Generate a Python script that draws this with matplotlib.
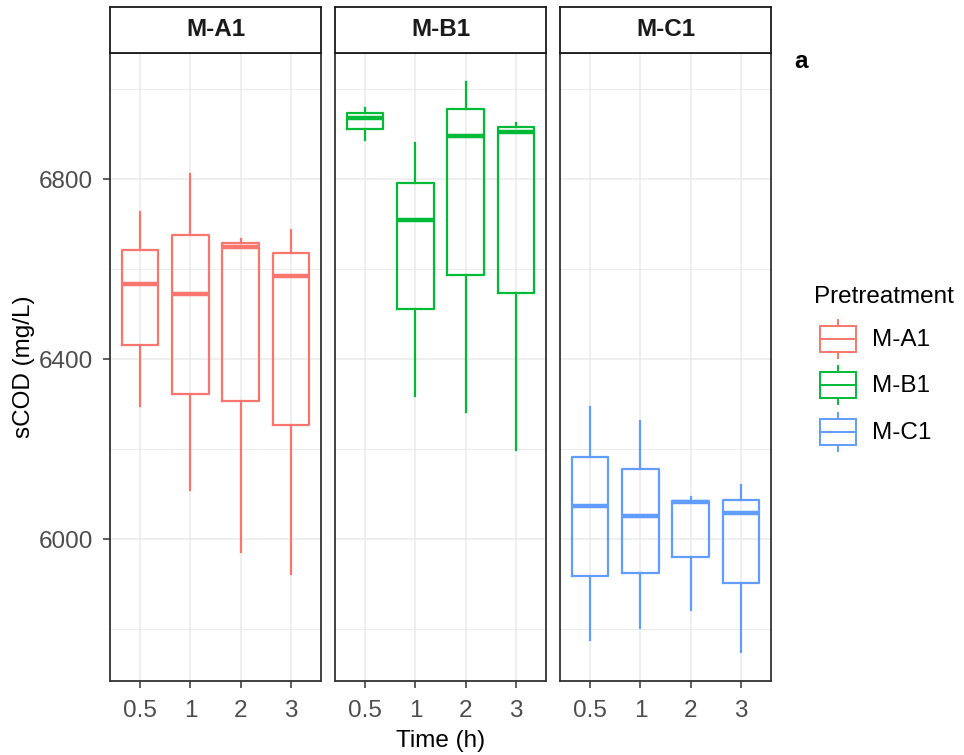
import matplotlib
matplotlib.use("Agg")
import matplotlib.pyplot as plt
from matplotlib.patches import Rectangle
from matplotlib.lines import Line2D
from matplotlib.ticker import FixedLocator

plt.rcParams['font.family'] = ['Liberation Sans', 'DejaVu Sans']

# ---- data -------------------------------------------------------------
times = ["0.5", "1", "2", "3"]
groups = ["M-A1", "M-B1", "M-C1"]
colors = ["#F8766D", "#00BA38", "#619CFF"]

# five-number summaries for each time point (mg/L)
ma1_low = [6297, 6110, 5972, 5922]
ma1_q1 = [6431, 6324, 6307, 6253]
ma1_med = [6567, 6545, 6649, 6585]
ma1_q3 = [6644, 6676, 6658, 6636]
ma1_high = [6727, 6812, 6668, 6687]

mb1_low = [6887, 6319, 6282, 6198]
mb1_q1 = [6912, 6511, 6587, 6547]
mb1_med = [6937, 6710, 6896, 6906]
mb1_q3 = [6948, 6792, 6957, 6916]
mb1_high = [6958, 6882, 7016, 6926]

mc1_low = [5776, 5802, 5843, 5749]
mc1_q1 = [5919, 5924, 5960, 5902]
mc1_med = [6074, 6052, 6082, 6059]
mc1_q3 = [6182, 6156, 6085, 6088]
mc1_high = [6293, 6263, 6095, 6121]

summaries = [
    (ma1_low, ma1_q1, ma1_med, ma1_q3, ma1_high),
    (mb1_low, mb1_q1, mb1_med, mb1_q3, mb1_high),
    (mc1_low, mc1_q1, mc1_med, mc1_q3, mc1_high),
]

y_major = [6000, 6400, 6800]
y_minor = [5800, 6200, 6600, 7000]

# ---- layout helpers ---------------------------------------------------
W, H = 964, 755
fig = plt.figure(figsize=(W / 100, H / 100), dpi=100)
fig.patch.set_facecolor("white")


def px(left, top, width, height):
    return [left / W, 1 - (top + height) / H, width / W, height / H]


panel_left = [110, 335, 560]
panel_w = 211
panel_top, panel_bottom = 53, 681
strip_top = 7

border_col = "#333333"
grid_col = "#EBEBEB"
tick_lab_col = "#4D4D4D"
fs = 17.5

for i, (name, col, summ) in enumerate(zip(groups, colors, summaries)):
    ax = fig.add_axes(px(panel_left[i], panel_top, panel_w, panel_bottom - panel_top))
    low, q1, med, q3, high = summ
    stats = [dict(whislo=low[k], q1=q1[k], med=med[k], q3=q3[k], whishi=high[k],
                  fliers=[], label=times[k]) for k in range(len(times))]
    ax.bxp(stats, positions=range(1, len(times) + 1), widths=0.73,
           showcaps=False, showfliers=False,
           boxprops=dict(color=col, linewidth=1.6),
           whiskerprops=dict(color=col, linewidth=1.6),
           medianprops=dict(color=col, linewidth=3.2, solid_capstyle="butt"),
           zorder=3)

    ax.set_xlim(0.4, 4.6)
    ax.set_ylim(5685, 7081)
    ax.set_xticks(range(1, len(times) + 1))
    ax.set_xticklabels(times)
    ax.yaxis.set_major_locator(FixedLocator(y_major))
    ax.yaxis.set_minor_locator(FixedLocator(y_minor))

    ax.grid(True, which="major", color=grid_col, linewidth=1.1, zorder=0)
    ax.grid(True, which="minor", axis="y", color=grid_col, linewidth=0.7, zorder=0)
    ax.set_axisbelow(True)

    for sp in ax.spines.values():
        sp.set_color(border_col)
        sp.set_linewidth(1.3)

    ax.tick_params(axis="x", which="major", length=5, width=1.1, color=border_col,
                   labelcolor=tick_lab_col, labelsize=fs, pad=8.5)
    ax.tick_params(axis="y", which="minor", length=0)
    if i == 0:
        ax.tick_params(axis="y", which="major", length=5, width=1.1, color=border_col,
                       labelcolor=tick_lab_col, labelsize=fs, pad=7)
        ax.set_yticklabels([str(v) for v in y_major])
    else:
        ax.tick_params(axis="y", which="major", length=0, labelleft=False)

    # facet strip
    sx = fig.add_axes(px(panel_left[i], strip_top, panel_w, panel_top - strip_top))
    sx.set_xticks([])
    sx.set_yticks([])
    sx.set_facecolor("white")
    for sp in sx.spines.values():
        sp.set_color("#1A1A1A")
        sp.set_linewidth(1.3)
    sx.text(0.5, 0.5, name, ha="center", va="center", fontsize=fs,
            fontweight="bold", color="#1A1A1A", transform=sx.transAxes)

# ---- axis titles and tag -----------------------------------------------
fig.text(441 / W, 1 - 741 / H, "Time (h)", ha="center", va="center", fontsize=fs)
fig.text(24 / W, 1 - 367 / H, "sCOD (mg/L)", ha="center", va="center",
         rotation=90, fontsize=fs)
fig.text(801 / W, 1 - 62 / H, "a", ha="center", va="center", fontsize=fs,
         fontweight="bold")

# ---- legend -----------------------------------------------------------
lg = fig.add_axes([0, 0, 1, 1])
lg.set_xlim(0, W)
lg.set_ylim(H, 0)
lg.axis("off")
lg.patch.set_alpha(0)
lg.text(814, 297, "Pretreatment", ha="left", va="center", fontsize=fs)
for k, (name, col) in enumerate(zip(groups, colors)):
    cy = 339 + k * 46.3
    lg.add_line(Line2D([838, 838], [cy - 19, cy - 13], color=col, lw=1.4))
    lg.add_line(Line2D([838, 838], [cy + 13, cy + 19], color=col, lw=1.4))
    lg.add_patch(Rectangle((820, cy - 13), 36, 26, fill=False, edgecolor=col, lw=1.4))
    lg.add_line(Line2D([820, 856], [cy, cy], color=col, lw=1.4))
    lg.text(872, cy + 1, name, ha="left", va="center", fontsize=fs)

fig.savefig("out.png", dpi=100, facecolor="white")
